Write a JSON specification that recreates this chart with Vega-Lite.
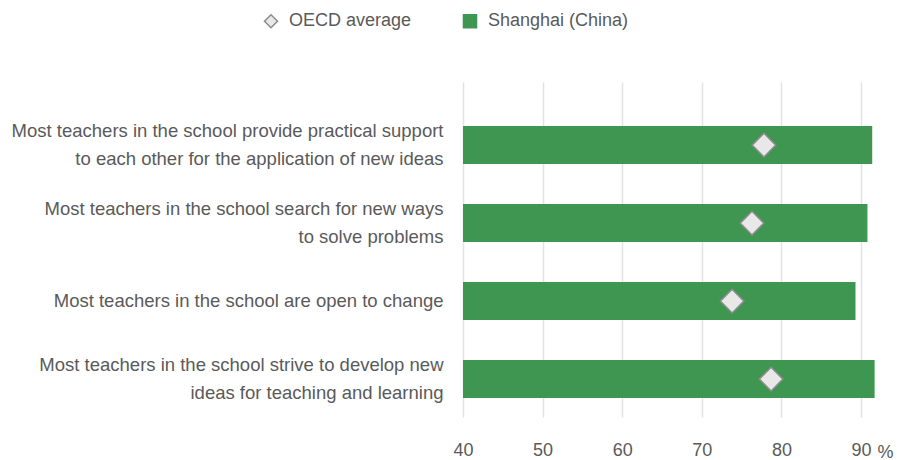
{
  "$schema": "https://vega.github.io/schema/vega-lite/v6.json",
  "width": 414,
  "height": 335,
  "autosize": {"type": "none"},
  "padding": {"left": 463, "top": 82, "right": 20, "bottom": 43},
  "background": "white",
  "config": {"view": {"stroke": null}, "font": "Liberation Sans"},
  "data": {"values": [
    {"item": "Most teachers in the school provide practical support|to each other for the application of new ideas", "series": "Shanghai (China)", "value": 91.4},
    {"item": "Most teachers in the school search for new ways|to solve problems", "series": "Shanghai (China)", "value": 90.8},
    {"item": "Most teachers in the school are open to change", "series": "Shanghai (China)", "value": 89.3},
    {"item": "Most teachers in the school strive to develop new|ideas for teaching and learning", "series": "Shanghai (China)", "value": 91.7},
    {"item": "Most teachers in the school provide practical support|to each other for the application of new ideas", "series": "OECD average", "value": 77.8},
    {"item": "Most teachers in the school search for new ways|to solve problems", "series": "OECD average", "value": 76.3},
    {"item": "Most teachers in the school are open to change", "series": "OECD average", "value": 73.8},
    {"item": "Most teachers in the school strive to develop new|ideas for teaching and learning", "series": "OECD average", "value": 78.7}
  ]},
  "encoding": {
    "y": {
      "field": "item", "type": "nominal", "sort": null,
      "scale": {"paddingInner": 0.513, "paddingOuter": 0.404, "align": 0.7},
      "axis": {
        "title": null, "domain": false, "ticks": false, "grid": false,
        "labelExpr": "split(datum.label, '|')",
        "labelFontSize": 18.5, "labelColor": "#5a5a5a", "labelLineHeight": 28,
        "labelPadding": 20, "labelLimit": 600, "labelAlign": "right", "labelBaseline": "middle",
        "labelOffset": {"condition": {"test": "indexof(datum.value, '|') >= 0", "value": -14}, "value": 0}
      }
    },
    "x": {
      "field": "value", "type": "quantitative",
      "scale": {"domain": [40, 92], "nice": false, "zero": false},
      "axis": {
        "values": [40, 50, 60, 70, 80, 90],
        "domain": false, "ticks": false, "labelFlush": false,
        "grid": true, "gridColor": "#e3e3e3", "gridWidth": 1.5,
        "labelFontSize": 18, "labelColor": "#5a5a5a", "labelPadding": 24,
        "title": "%", "titleFontSize": 18, "titleFontWeight": "normal", "titleColor": "#5a5a5a",
        "titleX": 414, "titleY": 35, "titleAlign": "left", "titleBaseline": "middle", "titleAnchor": null
      }
    },
    "color": {
      "field": "series", "type": "nominal",
      "scale": {"domain": ["OECD average", "Shanghai (China)"], "range": ["#e8e8e8", "#3e9651"]},
      "legend": {
        "title": null, "orient": "none", "direction": "horizontal",
        "legendX": -201, "legendY": -70,
        "labelFontSize": 18, "labelColor": "#5a5a5a",
        "symbolSize": 170, "symbolStrokeWidth": 1.5, "labelOffset": 9, "columnPadding": 48
      }
    },
    "shape": {
      "field": "series", "type": "nominal",
      "scale": {"domain": ["OECD average", "Shanghai (China)"], "range": ["diamond", "square"]}
    },
    "stroke": {
      "field": "series", "type": "nominal",
      "scale": {"domain": ["OECD average", "Shanghai (China)"], "range": ["#8c8c8c", "#3e9651"]}
    }
  },
  "layer": [
    {
      "transform": [{"filter": "datum.series == 'Shanghai (China)'"}],
      "mark": {"type": "bar", "strokeWidth": 0},
      "encoding": {"x2": {"datum": 40}}
    },
    {
      "transform": [{"filter": "datum.series == 'OECD average'"}],
      "mark": {"type": "point", "filled": true, "size": 560, "strokeWidth": 1.5, "opacity": 1}
    }
  ]
}
